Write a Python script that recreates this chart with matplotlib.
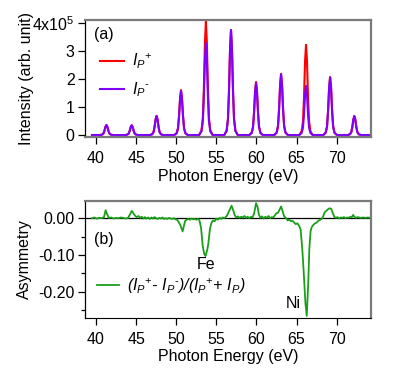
import numpy as np
import matplotlib
matplotlib.use('Agg')
import matplotlib.pyplot as plt

plt.rcParams['font.family'] = ['Liberation Sans', 'DejaVu Sans']
plt.rcParams['font.size'] = 11.5
plt.rcParams['mathtext.fontset'] = 'custom'
plt.rcParams['mathtext.rm'] = 'Liberation Sans'
plt.rcParams['mathtext.it'] = 'Liberation Sans:italic'

# (a) harmonic peaks: centre (eV), height for I_P+ and I_P- (x1e5)
peak_energy = [41.3, 44.45, 47.55, 50.6, 53.7, 56.83, 59.95, 63.07, 66.18, 69.18, 72.2]
height_plus = [0.36, 0.35, 0.69, 1.61, 4.06, 3.76, 1.90, 2.19, 3.23, 2.07, 0.68]
height_minus = [0.36, 0.35, 0.68, 1.57, 3.29, 3.76, 1.86, 2.17, 1.76, 2.07, 0.68]
# shape of one peak: offset (eV) and fraction of height
shape_offset = [-0.85, -0.55, -0.38, -0.25, -0.12, 0.0, 0.12, 0.25, 0.38, 0.55, 0.85]
shape_frac = [0.0, 0.04, 0.15, 0.42, 0.82, 1.0, 0.82, 0.42, 0.15, 0.04, 0.0]
e_start, e_end = 39.5, 74.2

# (b) asymmetry
asym_energy = [39.5, 39.8, 40.1, 40.4, 40.7, 41.0, 41.2, 41.4, 41.6, 41.9, 42.2, 42.5,
               42.8, 43.1, 43.4, 43.7, 44.0, 44.3, 44.45, 44.7, 44.9, 45.1, 45.3, 45.5,
               45.7, 45.9, 46.1, 46.3, 46.5, 46.7, 46.9, 47.1, 47.3, 47.5, 47.7, 47.9,
               48.1, 48.3, 48.5, 48.7, 48.9, 49.1, 49.3, 49.5, 49.7, 49.9, 50.1, 50.3,
               50.5, 50.7, 50.8, 50.95, 51.1, 51.3, 51.5, 51.7, 51.9, 52.1, 52.3, 52.5,
               52.7, 52.9, 53.1, 53.3, 53.5, 53.65, 53.85, 54.0, 54.2, 54.4, 54.6, 54.8,
               55.0, 55.2, 55.4, 55.6, 55.8, 56.0, 56.3, 56.6, 56.9, 57.1, 57.3, 57.5,
               57.7, 57.9, 58.1, 58.3, 58.5, 58.7, 58.9, 59.1, 59.3, 59.5, 59.7, 59.95,
               60.15, 60.3, 60.5, 60.7, 60.9, 61.1, 61.3, 61.5, 61.7, 61.9, 62.1, 62.3,
               62.5, 62.7, 62.9, 63.07, 63.25, 63.45, 63.7, 63.9, 64.1, 64.3, 64.5, 64.7,
               64.9, 65.1, 65.3, 65.5, 65.7, 65.9, 66.1, 66.27, 66.45, 66.6, 66.75, 66.9,
               67.1, 67.3, 67.5, 67.7, 67.9, 68.1, 68.3, 68.5, 68.7, 68.9, 69.1, 69.3,
               69.5, 69.7, 69.9, 70.1, 70.3, 70.5, 70.7, 70.9, 71.1, 71.3, 71.5, 71.7,
               71.9, 72.05, 72.2, 72.4, 72.6, 72.8, 73.0, 73.3, 73.6, 73.9, 74.2]
asym_value = [0.000, 0.002, -0.001, 0.001, 0.000, 0.003, 0.022, 0.010, 0.001, 0.002, -0.001, 0.001,
              0.000, 0.002, 0.001, -0.001, 0.001, 0.013, 0.020, 0.012, 0.006, 0.003, 0.006, 0.001,
              0.004, -0.001, 0.003, -0.001, 0.002, -0.002, 0.002, -0.001, 0.003, 0.000, -0.002, 0.001,
              -0.001, 0.002, -0.002, 0.000, -0.002, 0.001, -0.001, -0.002, 0.000, -0.003, -0.004, -0.010,
              -0.018, -0.030, -0.036, -0.022, -0.008, -0.004, -0.002, -0.004, -0.001, -0.003, -0.002, -0.004,
              -0.002, -0.006, -0.027, -0.075, -0.098, -0.103, -0.088, -0.070, -0.030, -0.012, -0.006, -0.008,
              -0.001, -0.004, 0.001, -0.002, 0.002, 0.000, 0.006, 0.020, 0.034, 0.022, 0.008, 0.002,
              0.005, 0.001, 0.004, 0.002, 0.006, 0.001, 0.004, 0.000, 0.004, 0.002, 0.012, 0.041,
              0.030, 0.010, 0.001, 0.005, -0.001, 0.004, 0.001, 0.006, 0.000, 0.003, 0.002, 0.008,
              0.014, 0.015, 0.024, 0.032, 0.020, 0.005, 0.000, -0.006, -0.004, -0.008, -0.007, -0.012,
              -0.016, -0.014, -0.020, -0.030, -0.080, -0.150, -0.230, -0.266, -0.180, -0.080, -0.035, -0.024,
              -0.018, -0.014, -0.012, -0.007, -0.005, -0.002, 0.004, 0.016, 0.020, 0.024, 0.027, 0.026,
              0.015, 0.004, 0.001, 0.003, -0.001, 0.002, 0.001, 0.003, 0.000, 0.002, 0.001, 0.004,
              0.003, 0.009, 0.004, 0.001, 0.003, 0.002, 0.001, 0.002, 0.001, 0.002, 0.001]

xticks = [40, 45, 50, 55, 60, 65, 70]
yticks_a = [0, 1e5, 2e5, 3e5, 4e5]
yticklabels_a = ['0', '1', '2', '3', '4x10$^5$']
yticks_b = [0.0, -0.1, -0.2]
yticklabels_b = ['0.00', '-0.10', '-0.20']


def spectrum(heights):
    xs, ys = [e_start], [0.0]
    for c, h in zip(peak_energy, heights):
        xs += [c + o for o in shape_offset]
        ys += [h * 1e5 * f for f in shape_frac]
    xs.append(e_end)
    ys.append(0.0)
    return xs, ys


def style_axes(ax):
    for s in ['top', 'right']:
        ax.spines[s].set_color('#7a7a7a')
        ax.spines[s].set_linewidth(1.6)
    ax.spines['left'].set_linewidth(0.9)
    ax.tick_params(direction='out', length=5, width=0.9, labelsize=11.5, pad=2.5)
    ax.tick_params(axis='x', pad=5)
    ax.set_xlim(38.63, 74.28)
    ax.set_xticks(xticks)
    ax.set_xlabel('Photon Energy (eV)', labelpad=2)


fig = plt.figure(figsize=(4.11, 3.71), dpi=100)
ax1 = fig.add_axes([0.2068, 0.6307, 0.6959, 0.3154])
ax2 = fig.add_axes([0.2068, 0.1437, 0.6959, 0.3146])

# (a)
xp, yp = spectrum(height_plus)
xm, ym = spectrum(height_minus)
ax1.plot(xp, yp, color='#ff0000', lw=1.5, label=r'$I_P{}^{+}$')
ax1.plot(xm, ym, color='#8000ff', lw=1.5, label=r'$I_P{}^{\text{-}}$')
style_axes(ax1)
ax1.spines['bottom'].set_color('#7a7a7a')
ax1.spines['bottom'].set_linewidth(1.6)
ax1.set_ylim(-0.07e5, 4.12e5)
ax1.set_yticks(yticks_a)
ax1.set_yticklabels(yticklabels_a)
ax1.set_ylabel('Intensity (arb. unit)')
ax1.yaxis.set_label_coords(-0.18, 0.5)
ax1.text(0.03, 0.88, '(a)', transform=ax1.transAxes, fontsize=11.5, va='center')
ax1.legend(loc='upper left', bbox_to_anchor=(0.03, 0.78), frameon=False,
           handlelength=1.5, handletextpad=0.5, labelspacing=0.55, borderaxespad=0,
           prop={'style': 'italic', 'size': 11.5})

# (b)
ax2.axhline(0, color='black', lw=0.9)
ax2.plot(asym_energy, asym_value, color='#1a9f1a', lw=1.3,
         label=r'($I_P{}^{+}$- $I_P{}^{\text{-}}$)/($I_P{}^{+}$+ $I_P$)')
style_axes(ax2)
ax2.set_ylim(-0.271, 0.047)
ax2.set_yticks(yticks_b)
ax2.set_yticklabels(yticklabels_b)
ax2.set_yticks([-0.05, -0.15, -0.25], minor=True)
ax2.tick_params(which='minor', direction='out', length=3, width=0.9)
ax2.set_ylabel('Asymmetry')
ax2.yaxis.set_label_coords(-0.185, 0.5)
ax2.text(0.03, 0.67, '(b)', transform=ax2.transAxes, fontsize=11.5, va='center')
ax2.text(53.7, -0.127, 'Fe', ha='center', va='center', fontsize=11.5)
ax2.text(64.6, -0.231, 'Ni', ha='center', va='center', fontsize=11.5)
ax2.legend(loc='center left', bbox_to_anchor=(0.02, 0.27), frameon=False,
           handlelength=1.4, handletextpad=0.5, borderaxespad=0,
           prop={'style': 'italic', 'size': 11.5})

fig.savefig('out.png', dpi=100)
